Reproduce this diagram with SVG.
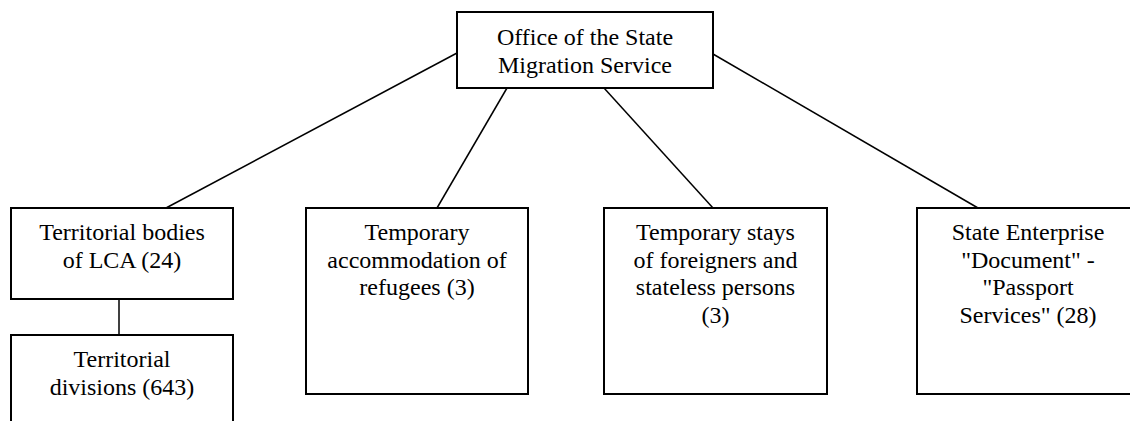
<svg xmlns="http://www.w3.org/2000/svg" width="1130" height="421" viewBox="0 0 1130 421">
<style>
.box{fill:#fff;stroke:#000;stroke-width:2}
.ln{stroke:#000;stroke-width:1.5;fill:none}
text{font-family:"Liberation Serif","Times New Roman",serif;font-size:24px;fill:#000;text-anchor:middle}
</style>
<rect width="1130" height="421" fill="#fff"/>
<g id="connectors">
<line class="ln" x1="457" y1="53" x2="166" y2="208"/>
<line class="ln" x1="507" y1="88" x2="437" y2="208"/>
<line class="ln" x1="604" y1="88" x2="713" y2="208"/>
<line class="ln" x1="713" y1="54" x2="978" y2="208"/>
<line class="ln" x1="119" y1="299" x2="119" y2="335"/>
</g>
<g id="office">
<rect class="box" x="457" y="12" width="256" height="76"/>
<text x="585" y="45">Office of the State</text>
<text x="585" y="72.6">Migration Service</text>
</g>
<g id="territorial-bodies">
<rect class="box" x="11" y="208" width="222" height="91"/>
<text x="122" y="240">Territorial bodies</text>
<text x="122" y="267.5">of LCA (24)</text>
</g>
<g id="territorial-divisions">
<rect class="box" x="11" y="335" width="222" height="100"/>
<text x="122" y="367">Territorial</text>
<text x="122" y="394.5">divisions (643)</text>
</g>
<g id="refugees">
<rect class="box" x="306" y="208" width="222" height="186"/>
<text x="417" y="240">Temporary</text>
<text x="417" y="267.5">accommodation of</text>
<text x="417" y="295">refugees (3)</text>
</g>
<g id="foreigners">
<rect class="box" x="604" y="208" width="223" height="186"/>
<text x="715.5" y="240">Temporary stays</text>
<text x="715.5" y="267.5">of foreigners and</text>
<text x="715.5" y="295">stateless persons</text>
<text x="715.5" y="322.5">(3)</text>
</g>
<g id="document">
<rect class="box" x="917" y="208" width="222" height="186"/>
<text x="1028" y="240">State Enterprise</text>
<text x="1028" y="267.5">"Document" -</text>
<text x="1028" y="295">"Passport</text>
<text x="1028" y="322.5">Services" (28)</text>
</g>
</svg>
